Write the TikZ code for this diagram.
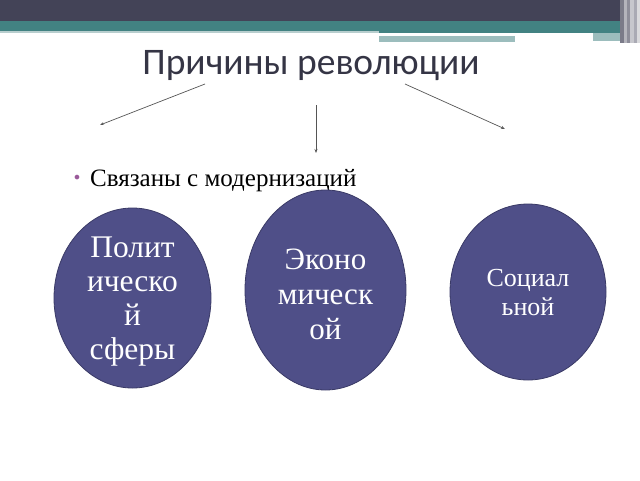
\documentclass[tikz,border=0pt]{standalone}
\usepackage{fontspec}
\setmainfont{Liberation Serif}
\newfontfamily\titlefont{Carlito}
\newfontfamily\bulletfont{DejaVu Sans}
\usetikzlibrary{shapes.geometric,arrows.meta}
\definecolor{topdark}{HTML}{434357}
\definecolor{topteal}{HTML}{428282}
\definecolor{greyteal}{HTML}{9CBDBD}
\definecolor{lightteal}{HTML}{B8CECE}
\definecolor{ellfill}{HTML}{4F4F88}
\definecolor{ellline}{HTML}{3A3A66}
\definecolor{titlecol}{HTML}{353545}
\definecolor{arrowcol}{HTML}{555555}
\definecolor{bulletcol}{HTML}{9A5A9A}
\tikzset{
  sphere/.style={ellipse, draw=ellline, line width=0.8pt, fill=ellfill, inner sep=0pt},
  spheretext/.style={text=white, align=center, inner sep=0pt},
  causearrow/.style={draw=arrowcol, line width=0.7pt, -{Stealth[length=4pt,width=3pt]}}
}
\begin{document}
\begin{tikzpicture}[x=1pt,y=-1pt]
\useasboundingbox (0,0) rectangle (640,480);
\fill[white] (0,0) rectangle (640,480);
% header bars
\fill[topdark] (0,0) rectangle (620,21);
\fill[topteal] (0,21) rectangle (620,31);
\fill[lightteal] (0,31) rectangle (379,33);
\fill[topteal] (379,31) rectangle (620,33);
\fill[white] (379,33.5) rectangle (593,36);
\fill[greyteal] (379,36) rectangle (515,42);
\fill[greyteal] (593,33) rectangle (620,41);
% right vertical stripes
\fill[topdark!70!white] (620,0) rectangle (624,43);
\fill[topdark!40!white] (624,0) rectangle (627,43);
\fill[topdark!60!white] (627,0) rectangle (630,43);
\fill[topdark!30!white] (630,0) rectangle (634,43);
\fill[topdark!45!white] (634,0) rectangle (637,43);
\fill[topdark!20!white] (637,0) rectangle (640,43);
% title
\node[font=\titlefont\fontsize{37.5}{44}\selectfont, text=titlecol, inner sep=0pt] (title) at (311,66) {Причины революции};
\coordinate (a1s) at (205,84);
\coordinate (a1e) at (100,125);
\coordinate (a2s) at (316,105);
\coordinate (a2e) at (316,153);
\coordinate (a3s) at (405,84);
\coordinate (a3e) at (505,129);
\draw[causearrow] (a1s) -- (a1e);
\draw[causearrow] (a2s) -- (a2e);
\draw[causearrow] (a3s) -- (a3e);
% bullet line
\node[font=\bulletfont\fontsize{16}{18}\selectfont, text=bulletcol, inner sep=0pt] (bullet) at (77,179) {•};
\node[font=\fontsize{25}{29}\selectfont, anchor=base west, inner sep=0pt] (sub) at (90,186) {Связаны с модернизаций};
% ellipses
\node[sphere, minimum width=157pt, minimum height=180pt] (pol) at (132.5,298) {};
\node[sphere, minimum width=161pt, minimum height=200pt] (eco) at (325.5,290) {};
\node[sphere, minimum width=156pt, minimum height=176pt] (soc) at (528,292) {};
\node[spheretext, font=\fontsize{31.5}{34}\selectfont] (poltext) at ([yshift=-4pt]pol.center) {Полит\\ическо\\й\\сферы};
\node[spheretext, font=\fontsize{31}{35}\selectfont] (ecotext) at ([yshift=-4pt]eco.center) {Эконо\\мическ\\ой};
\node[spheretext, font=\fontsize{26}{29}\selectfont] (soctext) at ([yshift=-1pt]soc.center) {Социал\\ьной};
\end{tikzpicture}
\end{document}
